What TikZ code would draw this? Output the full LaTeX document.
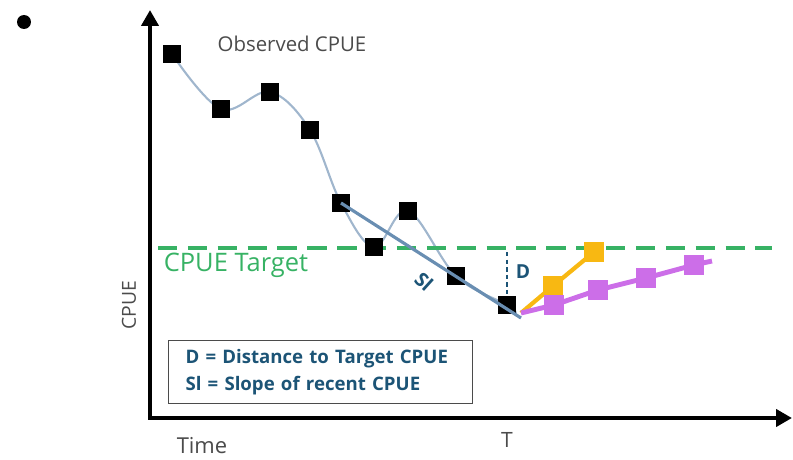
\documentclass[tikz,border=0pt]{standalone}
\usepackage{fontspec}
\setmainfont{Open Sans}
\usetikzlibrary{arrows.meta,backgrounds}

\definecolor{obsblue}{RGB}{160,182,205}
\definecolor{slblue}{RGB}{105,142,178}
\definecolor{tgtgreen}{RGB}{55,178,100}
\definecolor{dteal}{RGB}{28,84,118}
\definecolor{projorange}{RGB}{248,184,18}
\definecolor{projpurple}{RGB}{204,110,232}
\definecolor{labgrey}{RGB}{75,75,75}

\tikzset{
  obs/.style={fill=black, minimum size=0.36cm, inner sep=0pt},
  proj/.style={minimum size=0.4cm, inner sep=0pt},
  axis/.style={line width=2.8pt, {Triangle[length=0.32cm,width=0.34cm]}-{Triangle[length=0.32cm,width=0.34cm]}},
  lab/.style={text=labgrey, font=\fontsize{11}{13}\selectfont}
}

\begin{document}
\begin{tikzpicture}[x={(0.02cm,0)},y={(0,-0.02cm)}]
\useasboundingbox (0,0) rectangle (793,459);

\node[circle, fill=black, minimum size=0.28cm, inner sep=0pt] (dot) at (24,22) {};

% axes
\draw[axis] (150,10) -- (150,418) -- (792,418);
\node[lab, rotate=90] (ylab) at (129,305) {CPUE};
\node[lab, font=\fontsize{12.5}{14}\selectfont] (xlab) at (202,446) {Time};
\node[lab, font=\fontsize{12}{14}\selectfont] (tlab) at (507,440) {T};
\node[lab, font=\fontsize{11.6}{14}\selectfont] (obslab) at (292,44) {Observed CPUE};

% target
\node[text=tgtgreen, font=\fontsize{14.5}{16}\selectfont] (tgtlab) at (236,265) {CPUE Target};
\coordinate (tgtL) at (158,248);
\coordinate (tgtR) at (772,248);
\draw[tgtgreen, line width=2.4pt, dash pattern=on 11pt off 6pt] (tgtL) -- (tgtR);

% observed series
\node[obs] (o1) at (172,54) {};
\node[obs] (o2) at (221,109) {};
\node[obs] (o3) at (270,92) {};
\node[obs] (o4) at (310,130) {};
\node[obs] (o5) at (341,203) {};
\node[obs] (o6) at (374,247) {};
\node[obs] (o7) at (408,211) {};
\node[obs] (o8) at (456,276) {};
\node[obs] (o9) at (507,305) {};
\begin{scope}[on background layer]
\draw[obsblue, line width=1.2pt] plot[smooth, tension=0.6] coordinates {(o1.center) (o2.center) (o3.center) (o4.center) (o5.center) (o6.center) (o7.center) (o8.center) (o9.center) (516,313)};
\end{scope}

% slope
\coordinate (slend) at (521,318);
\draw[slblue, line width=1.8pt] (o5.center) -- (slend);
\node[text=dteal, font=\bfseries\fontsize{11}{13}\selectfont, rotate=-42, inner sep=0pt] (sl) at (424,282) {Sl};

% distance
\coordinate (dtop) at (507,252);
\draw[dteal, line width=1.4pt, dash pattern=on 2.5pt off 1.8pt] (dtop) -- (o9);
\node[text=dteal, font=\bfseries\fontsize{11}{13}\selectfont] (dlab) at (523,272) {D};

% projections
\coordinate (pstart) at (521,313);
\node[proj, fill=projorange] (a1) at (553,286) {};
\node[proj, fill=projorange] (a2) at (594,252) {};
\node[proj, fill=projpurple] (b1) at (554,305) {};
\node[proj, fill=projpurple] (b2) at (598,290) {};
\node[proj, fill=projpurple] (b3) at (646,278) {};
\node[proj, fill=projpurple] (b4) at (694,265) {};
\coordinate (bend) at (712,261);
\begin{scope}[on background layer]
\draw[projorange, line width=2.4pt] (pstart) -- (a1.center) -- (a2.center);
\draw[projpurple, line width=2.8pt] (pstart) -- (b1.center) -- (b2.center) -- (b3.center) -- (b4.center) -- (bend);
\end{scope}

% key
\node[draw=labgrey, line width=0.6pt, anchor=north west, minimum width=6.08cm, minimum height=1.26cm,
      inner xsep=0.34cm, text width=5.4cm, align=left, text=dteal,
      font=\bfseries\fontsize{10.6}{15.3}\selectfont] (key) at (168,340)
  {D = Distance to Target CPUE\\Sl = Slope of recent CPUE};
\end{tikzpicture}
\end{document}
